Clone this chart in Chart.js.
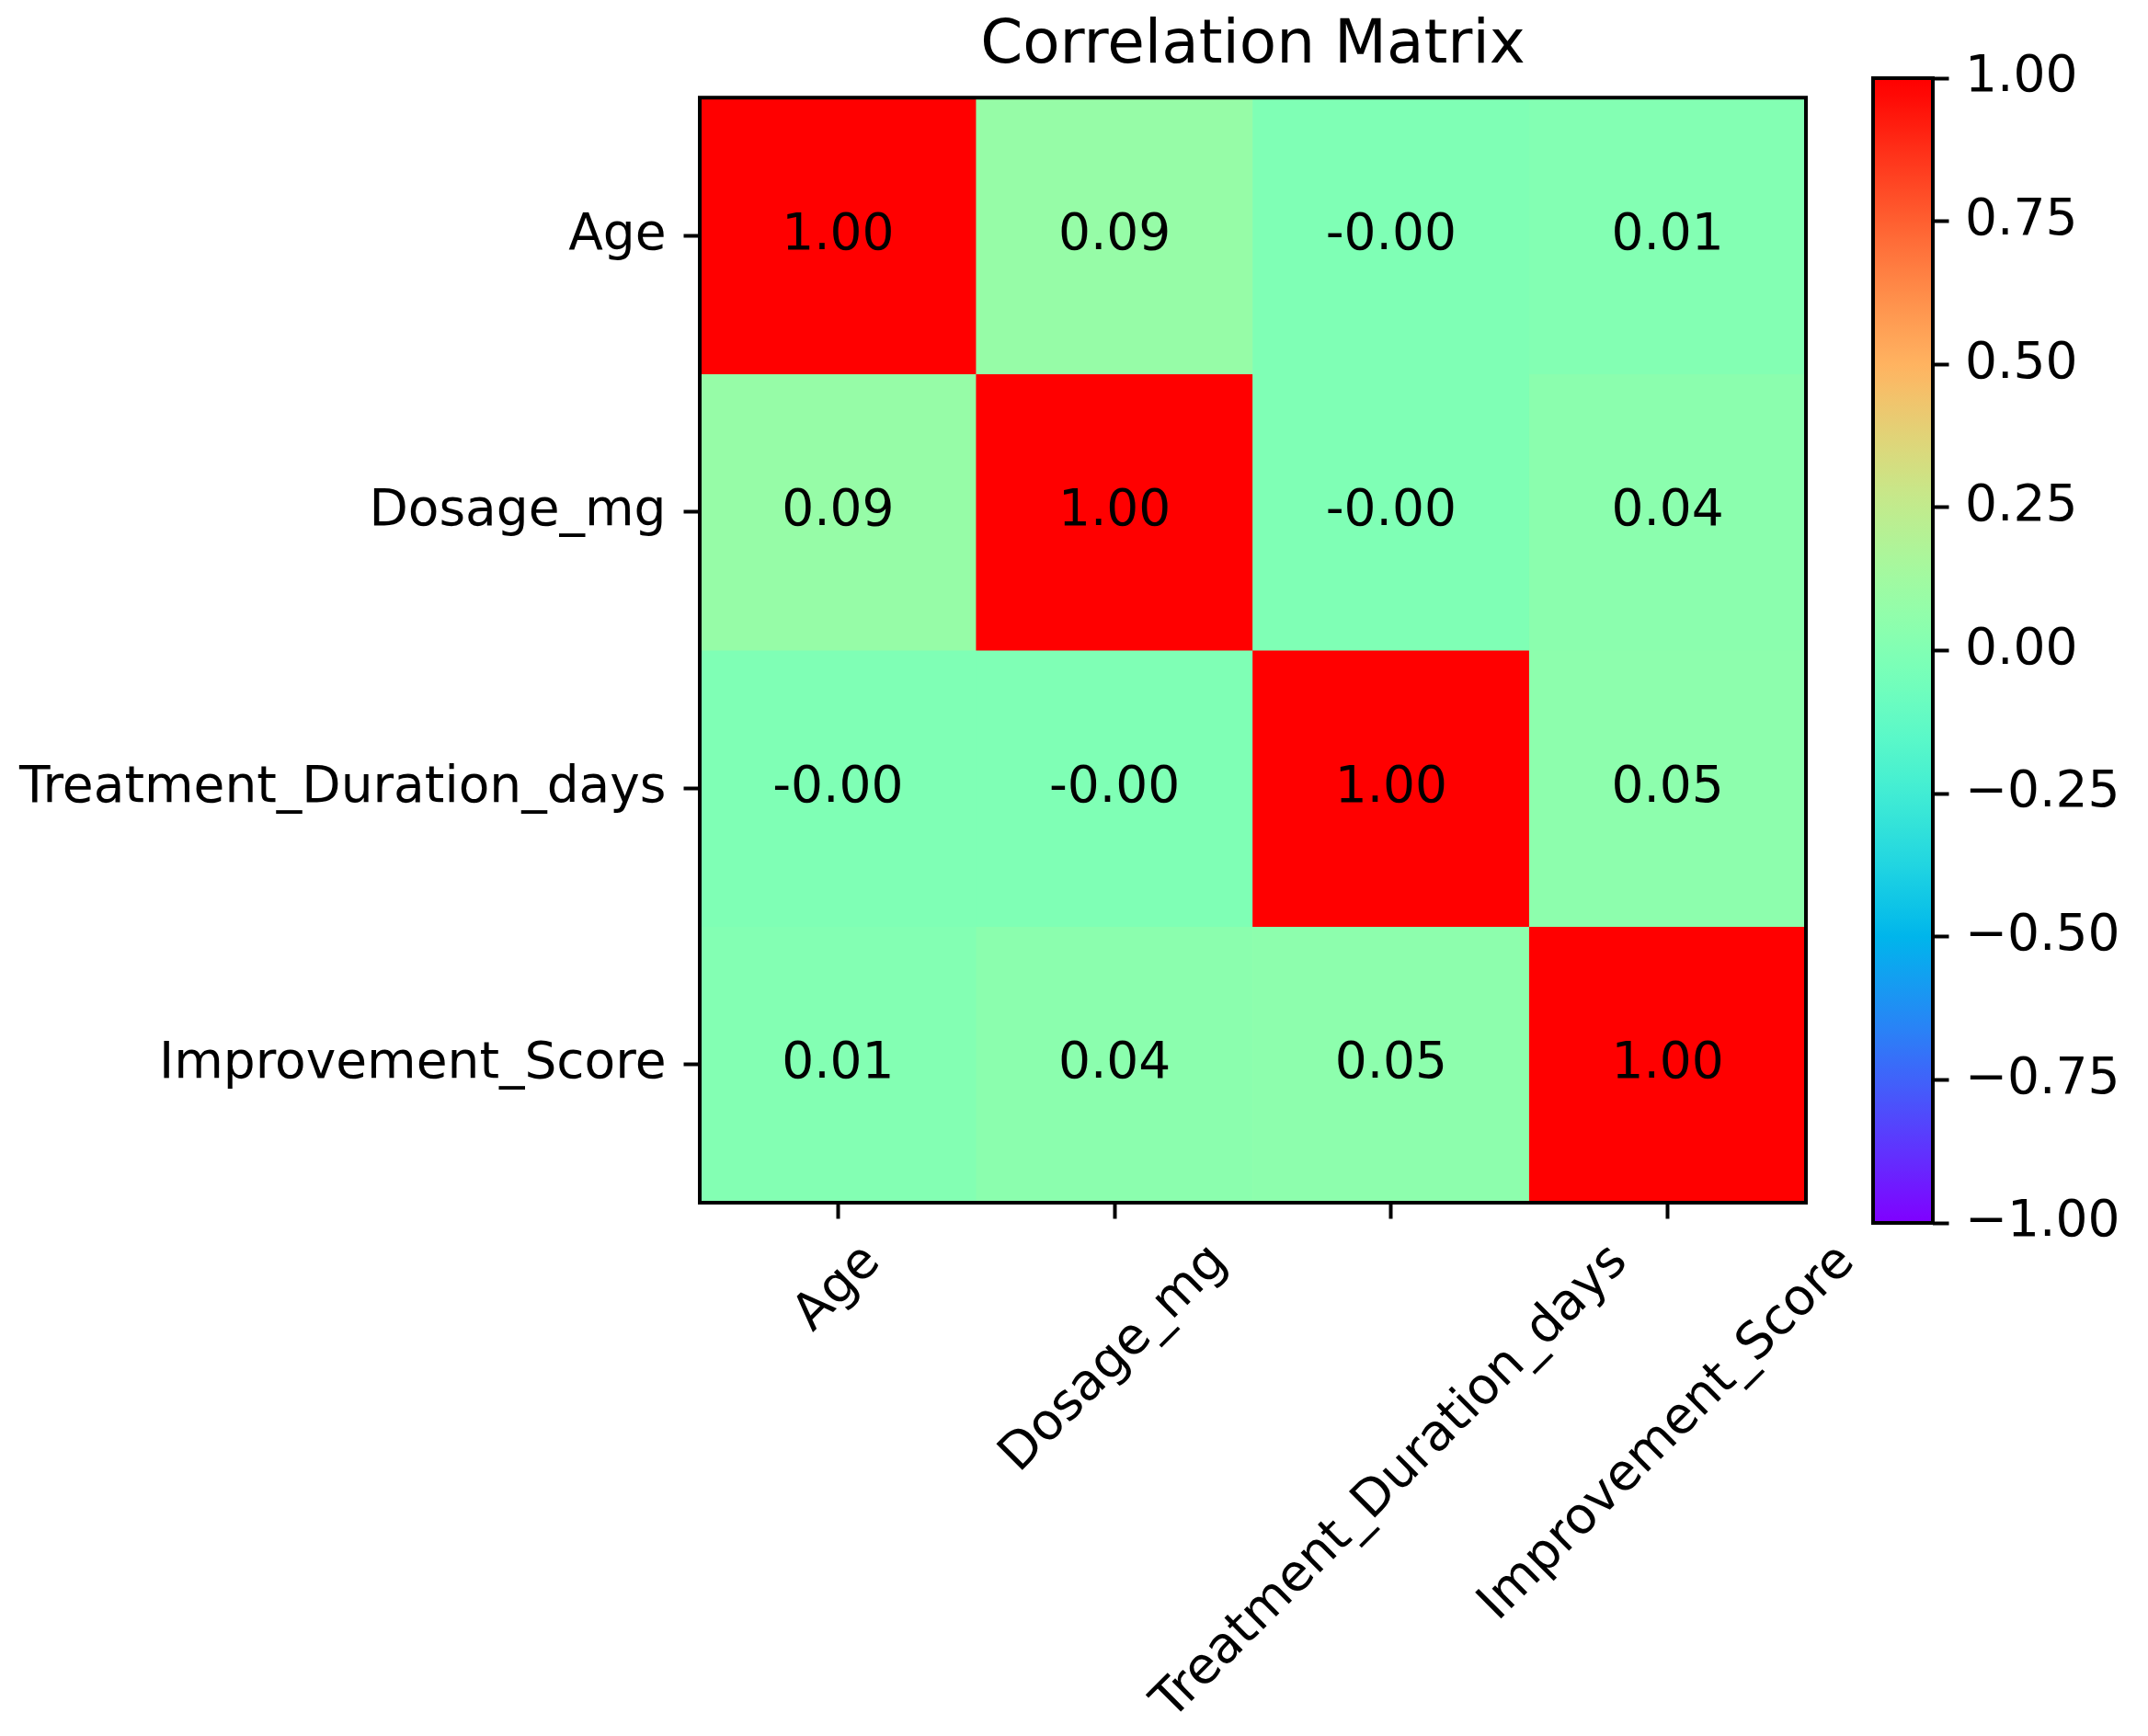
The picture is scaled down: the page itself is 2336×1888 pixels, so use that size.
<!DOCTYPE html>
<html>
<head>
<meta charset="utf-8">
<script src="https://cdn.jsdelivr.net/npm/chart.js@4.4.1/dist/chart.umd.min.js"></script>
<style>
html,body{margin:0;padding:0;background:#fff;width:2336px;height:1888px;overflow:hidden}
#main{position:absolute;left:0;top:0}
#cbar{position:absolute;left:1990px;top:0}
</style>
</head>
<body>
<canvas id="main" width="2336" height="1888"></canvas>
<canvas id="cbar" width="346" height="1888"></canvas>
<script>
// ---- data ----
const variables = ['Age', 'Dosage_mg', 'Treatment_Duration_days', 'Improvement_Score'];
const rowAge = [1.00, 0.09, -0.003, 0.01];
const rowDosage = [0.09, 1.00, -0.002, 0.04];
const rowTreatment = [-0.003, -0.002, 1.00, 0.05];
const rowImprovement = [0.01, 0.04, 0.05, 1.00];
const matrixRows = [rowAge, rowDosage, rowTreatment, rowImprovement];
const colorbarTicks = [1, 0.75, 0.5, 0.25, 0, -0.25, -0.5, -0.75, -1];
const titleText = 'Correlation Matrix';
const vMin = -1, vMax = 1;

// ---- style ----
const FAMILY = '"DejaVu Sans", sans-serif';
const FS = 55, TFS = 66, TICK = 17.5, PAD = 19, LW = 4;
Chart.defaults.font.family = FAMILY;
Chart.defaults.color = '#000';

function clamp(v) { return Math.min(1, Math.max(0, v)); }
// matplotlib 'rainbow' colormap (256-entry LUT)
function rainbow(v) {
  const x = clamp((v - vMin) / (vMax - vMin));
  const idx = Math.min(255, Math.floor(x * 256));
  const t = idx / 255;
  const r = clamp(Math.abs(2 * t - 0.5));
  const g = clamp(Math.sin(t * Math.PI));
  const b = clamp(Math.cos(t * Math.PI / 2));
  return 'rgb(' + Math.round(r * 255) + ',' + Math.round(g * 255) + ',' + Math.round(b * 255) + ')';
}

const framePlugin = {
  id: 'frame',
  afterDraw(chart) {
    const a = chart.chartArea, ctx = chart.ctx;
    ctx.save();
    ctx.lineWidth = LW;
    ctx.strokeStyle = '#000';
    ctx.strokeRect(a.left, a.top, a.right - a.left, a.bottom - a.top);
    ctx.restore();
  }
};

const cellTextPlugin = {
  id: 'cellText',
  afterDatasetsDraw(chart) {
    const ctx = chart.ctx, xs = chart.scales.x, ys = chart.scales.y;
    ctx.save();
    ctx.font = FS + 'px ' + FAMILY;
    ctx.fillStyle = '#000';
    ctx.textAlign = 'center';
    ctx.textBaseline = 'middle';
    matrixRows.forEach((row, i) => {
      row.forEach((v, j) => {
        ctx.fillText(v.toFixed(2), xs.getPixelForValue(j), ys.getPixelForValue(i + 0.5));
      });
    });
    ctx.restore();
  }
};

const xLabelPlugin = {
  id: 'xLabels',
  afterDraw(chart) {
    const ctx = chart.ctx, xs = chart.scales.x, a = chart.chartArea;
    ctx.save();
    ctx.font = FS + 'px ' + FAMILY;
    ctx.fillStyle = '#000';
    ctx.textAlign = 'center';
    ctx.textBaseline = 'middle';
    const top = a.bottom + TICK + PAD;
    variables.forEach((lab, j) => {
      const w = ctx.measureText(lab).width;
      const d = (w + FS) * Math.SQRT1_2;
      ctx.save();
      ctx.translate(xs.getPixelForValue(j), top + d / 2);
      ctx.rotate(-Math.PI / 4);
      ctx.fillText(lab, 0, 0);
      ctx.restore();
    });
    ctx.restore();
  }
};

const tickGrid = {
  display: true, offset: false, drawOnChartArea: false, drawTicks: true,
  tickLength: TICK, tickWidth: LW, tickColor: '#000', color: '#000'
};

new Chart(document.getElementById('main'), {
  type: 'bar',
  data: {
    labels: variables,
    datasets: matrixRows.map((row, i) => ({
      label: variables[i],
      data: row.map(() => [i, i + 1]),
      backgroundColor: row.map(rainbow),
      borderWidth: 0,
      barPercentage: 1,
      categoryPercentage: 1,
      grouped: false
    }))
  },
  options: {
    responsive: false, animation: false, devicePixelRatio: 1, events: [],
    layout: { padding: { left: 0, right: 372, top: 0, bottom: 0 } },
    plugins: {
      legend: { display: false },
      tooltip: { enabled: false },
      title: {
        display: true, text: titleText, fullSize: false, color: '#000',
        font: { size: TFS, weight: 'normal', family: FAMILY },
        padding: { top: 11, bottom: 16 }
      }
    },
    scales: {
      x: {
        type: 'category', position: 'bottom', offset: true,
        grid: tickGrid, border: { display: false },
        ticks: { display: false },
        afterFit: s => { s.height = 580; }
      },
      y: {
        type: 'linear', position: 'left', min: 0, max: 4, reverse: true,
        grid: tickGrid, border: { display: false },
        ticks: {
          font: { size: FS, family: FAMILY }, color: '#000', padding: PAD, autoSkip: false,
          callback: (v, idx) => variables[idx]
        },
        afterBuildTicks: s => { s.ticks = variables.map((_, i) => ({ value: i + 0.5 })); },
        afterFit: s => { s.width = 761; }
      }
    }
  },
  plugins: [cellTextPlugin, framePlugin, xLabelPlugin]
});

function cbarFill(context) {
  const area = context.chart.chartArea;
  if (!area) return 'rgba(0,0,0,0)';
  const g = context.chart.ctx.createLinearGradient(0, area.bottom, 0, area.top);
  for (let k = 0; k <= 64; k++) {
    const f = k / 64;
    g.addColorStop(f, rainbow(vMin + f * (vMax - vMin)));
  }
  return g;
}

function fmtTick(v) {
  const s = Math.abs(v).toFixed(2);
  return (v < 0 ? '\u2212' : '') + s;
}

new Chart(document.getElementById('cbar'), {
  type: 'bar',
  data: {
    labels: [''],
    datasets: [{ data: [[vMin, vMax]], backgroundColor: cbarFill, borderWidth: 0, barPercentage: 1, categoryPercentage: 1 }]
  },
  options: {
    responsive: false, animation: false, devicePixelRatio: 1, events: [],
    layout: { padding: { left: 47, right: 0, top: 85, bottom: 558 } },
    plugins: { legend: { display: false }, tooltip: { enabled: false }, title: { display: false } },
    scales: {
      x: { display: false },
      y: {
        type: 'linear', position: 'right', min: vMin, max: vMax,
        grid: tickGrid, border: { display: false },
        ticks: { font: { size: FS, family: FAMILY }, color: '#000', padding: 17.5, autoSkip: false, callback: v => fmtTick(v) },
        afterBuildTicks: s => { s.ticks = colorbarTicks.map(v => ({ value: v })); },
        afterFit: s => { s.width = 234; }
      }
    }
  },
  plugins: [framePlugin]
});
</script>
</body>
</html>
